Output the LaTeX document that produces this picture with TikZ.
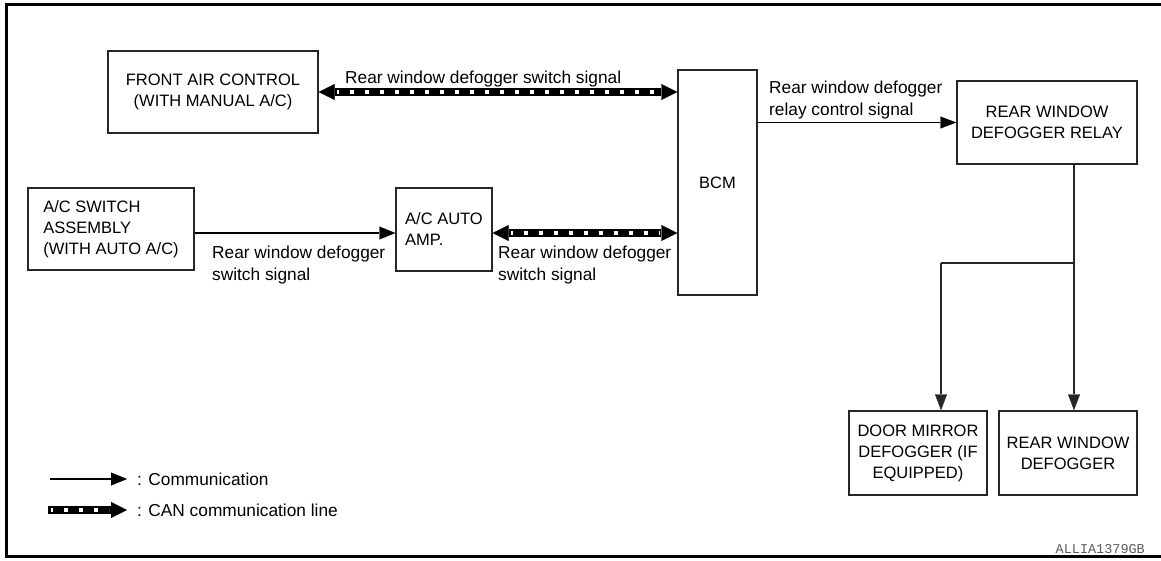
\documentclass[tikz,border=0pt]{standalone}
\usepackage{fontspec}
\setmainfont{Liberation Sans}
\newfontfamily\codefont{Liberation Mono}
\usetikzlibrary{arrows.meta}
\begin{document}
\begin{tikzpicture}[x=1pt,y=-1pt,
  box/.style={draw=black!85, line width=1.4pt, inner sep=0pt, align=center,
    font=\fontsize{16.5}{21}\selectfont},
  lbl/.style={inner sep=0pt, align=left, anchor=west,
    font=\fontsize{17.3}{22}\selectfont},
  comm/.style={line width=2.2pt, -{Triangle[length=16pt,width=13pt,line width=0.4pt]}},
  relcomm/.style={line width=1.4pt, -{Triangle[length=16pt,width=12pt,line width=0.4pt]}},
  feed/.style={line width=1.4pt, draw=black!85},
  canband/.style={line width=8pt,
    postaction={draw=white, line width=3.4pt, dash pattern=on 4pt off 11pt,
      dash phase=2pt, arrows=-, shorten >=18pt, shorten <=#1}},
  canboth/.style={canband=18pt,
    {Triangle[length=16pt,width=16pt,line width=0.4pt]}-{Triangle[length=16pt,width=16pt,line width=0.4pt]}},
  canone/.style={canband=3pt, -{Triangle[length=16pt,width=16pt,line width=0.4pt]}},
]
\path[use as bounding box] (0,0) rectangle (1161,560);
% frame
\draw[line width=3pt] (1162,4.5) -- (6,4.5) -- (6,556) -- (1162,556);

% boxes
\node[box, minimum width=210pt, minimum height=82pt] (fac) at (213,92)
  {FRONT AIR CONTROL\\(WITH MANUAL A/C)};
\node[box, minimum width=79pt, minimum height=225pt] (bcm) at (717.5,182.5) {BCM};
\node[box, minimum width=180pt, minimum height=83pt] (rel) at (1047,122.5)
  {REAR WINDOW\\DEFOGGER RELAY};
\node[box, minimum width=166pt, minimum height=82pt, align=left] (acs) at (111,229)
  {A/C SWITCH\\ASSEMBLY\\(WITH AUTO A/C)};
\node[box, minimum width=96pt, minimum height=83pt, align=left] (amp) at (444,229.5)
  {A/C AUTO\\AMP.};
\node[box, minimum width=138pt, minimum height=84pt] (dm) at (918,453)
  {DOOR MIRROR\\DEFOGGER (IF\\EQUIPPED)};
\node[box, minimum width=138pt, minimum height=84pt] (rwd) at (1068,453)
  {REAR WINDOW\\DEFOGGER};

% connectors
\draw[canboth] (fac.east) -- (fac.east -| bcm.west);
\draw[relcomm] (rel.west -| bcm.east) -- (rel.west);
\coordinate (ya) at (0,233);
\draw[comm] (acs.east |- ya) -- (amp.west |- ya);
\draw[canboth] (amp.east |- ya) -- (bcm.west |- ya);
\coordinate (j1) at (1074,263);
\coordinate (j2) at (941,263);
\draw[feed] (rel.south -| j1) -- (j1) -- (j2);
\draw[feed, -{Triangle[length=16pt,width=12pt,line width=0.4pt]}] (j1) -- (j1 |- rwd.north);
\draw[feed, -{Triangle[length=16pt,width=12pt,line width=0.4pt]}] (j2) -- (j2 |- dm.north);

% labels
\node[lbl] (l1) at (345,79) {Rear window defogger switch signal};
\node[lbl] (l2) at (769,100) {Rear window defogger\\relay control signal};
\node[lbl] (l3) at (212,265) {Rear window defogger\\switch signal};
\node[lbl] (l4) at (498,265) {Rear window defogger\\switch signal};

% legend
\coordinate (lg1a) at (50,479);
\coordinate (lg1b) at (127,479);
\coordinate (lg2a) at (48,510);
\coordinate (lg2b) at (127,510);
\draw[comm] (lg1a) -- (lg1b);
\draw[canone] (lg2a) -- (lg2b);
\node[lbl] (t1) at (137,479) {: Communication};
\node[lbl] (t2) at (137,510) {: CAN communication line};

\node[inner sep=0pt, anchor=east, text=black!65, font=\codefont\fontsize{13.5}{15}\selectfont]
  (code) at (1145,549) {ALLIA1379GB};
\end{tikzpicture}
\end{document}
